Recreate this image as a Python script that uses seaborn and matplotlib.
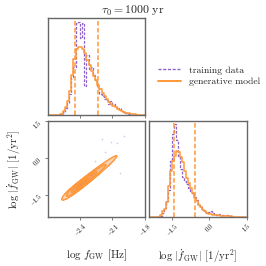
import numpy as np
import pandas as pd
import matplotlib
matplotlib.use("Agg")
import matplotlib.pyplot as plt
import seaborn as sns
from matplotlib.lines import Line2D
from matplotlib.colors import LinearSegmentedColormap

# marginal of log f_GW (top-left), heights
f_edges = np.linspace(-2.70, -1.80, 46)
f_train = [0, 0, 0, 0, 0, 0, 0.01, 0.04, 0.08, 0.13, 0.22, 0.40, 0.50, 0.95, 0.96,
           0.80, 0.95, 0.30, 0.62, 0.48, 0.50, 0.42, 0.36, 0.30, 0.22, 0.20, 0.17,
           0.16, 0.12, 0.15, 0.12, 0.09, 0.07, 0.08, 0.05, 0.04, 0.03, 0.02, 0.01,
           0, 0, 0, 0, 0, 0]
f_model = [0, 0, 0, 0, 0, 0.005, 0.02, 0.05, 0.09, 0.15, 0.25, 0.42, 0.58, 0.68,
           0.71, 0.71, 0.68, 0.64, 0.57, 0.52, 0.46, 0.41, 0.36, 0.31, 0.27, 0.23,
           0.20, 0.17, 0.14, 0.12, 0.10, 0.085, 0.07, 0.06, 0.05, 0.04, 0.03, 0.025,
           0.02, 0.015, 0.01, 0.008, 0.006, 0.004, 0.003]
f_quant = [-2.446, -2.23]

# marginal of log |fdot_GW| (bottom-right)
fd_edges = np.linspace(-2.44, 1.48, 50)
fd_train = [0, 0, 0, 0, 0, 0, 0.01, 0.04, 0.09, 0.17, 0.28, 0.58, 0.86, 0.97, 0.80,
            0.64, 0.50, 0.42, 0.38, 0.34, 0.30, 0.26, 0.24, 0.21, 0.18, 0.13, 0.10,
            0.07, 0.05, 0.04, 0.05, 0.06, 0.04, 0.03, 0.025, 0.03, 0.02, 0.025, 0.02,
            0.02, 0.02, 0.01, 0, 0, 0, 0, 0, 0, 0]
fd_model = [0, 0, 0, 0, 0, 0.005, 0.02, 0.06, 0.08, 0.16, 0.32, 0.48, 0.58, 0.64,
            0.69, 0.68, 0.63, 0.57, 0.48, 0.41, 0.35, 0.30, 0.25, 0.20, 0.17, 0.13,
            0.10, 0.07, 0.06, 0.045, 0.035, 0.03, 0.025, 0.02, 0.02, 0.017, 0.015,
            0.013, 0.011, 0.009, 0.007, 0.006, 0.005, 0.004, 0.003, 0.002, 0.002,
            0.001, 0.001]
fd_quant = [-1.43, -0.59]

# joint density of the generative model: profile along the ridge ...
ridge_x = [-2.55, -2.51, -2.47, -2.43, -2.39, -2.35, -2.31, -2.27, -2.23, -2.19,
           -2.15, -2.11, -2.07, -2.03, -1.99, -1.95, -1.91]
ridge_y = [-1.60, -1.47, -1.34, -1.21, -1.08, -0.94, -0.80, -0.66, -0.52, -0.38,
           -0.24, -0.10, 0.04, 0.18, 0.32, 0.46, 0.60]
ridge_w = [0.05, 0.15, 0.42, 0.68, 0.71, 0.64, 0.52, 0.41, 0.31, 0.23, 0.17, 0.12,
           0.085, 0.06, 0.04, 0.025, 0.012]
# ... and across it (offset in log fdot, relative weight)
cross_dy = [-0.15, -0.10, -0.05, 0.0, 0.05, 0.10, 0.15]
cross_w = [0.32, 0.61, 0.88, 1.0, 0.88, 0.61, 0.32]

# a few training samples visible as faint dots
train_x = [-1.99, -2.06, -2.20, -2.11, -2.17, -2.26, -2.03, -2.14, -2.30, -2.35,
           -2.40, -2.44, -2.38, -2.33, -2.28, -2.42, -2.46, -2.36, -2.31, -2.25]
train_y = [0.90, 0.60, 0.78, 0.65, 0.26, -0.14, -0.61, -0.30, -0.70, -0.90,
           -1.05, -1.20, -1.15, -0.80, -0.55, -1.30, -1.40, -1.00, -0.95, -0.40]

purple = "#8e63c9"
orange = "#ff9838"

sns.set_style("ticks")
plt.rcParams["font.family"] = ["cmr10", "DejaVu Serif"]
plt.rcParams["mathtext.fontset"] = "cm"
plt.rcParams["axes.formatter.use_mathtext"] = True
plt.rcParams["axes.unicode_minus"] = False
plt.rcParams["axes.edgecolor"] = "#666666"
plt.rcParams["axes.linewidth"] = 1.0
plt.rcParams["xtick.color"] = "#666666"
plt.rcParams["ytick.color"] = "#666666"
plt.rcParams["xtick.labelcolor"] = "black"
plt.rcParams["ytick.labelcolor"] = "black"

fig = plt.figure(figsize=(2.66, 2.66), dpi=100)
ax_f = fig.add_axes([0.182, 0.566, 0.363, 0.365])
ax_j = fig.add_axes([0.182, 0.184, 0.363, 0.361])
ax_d = fig.add_axes([0.562, 0.184, 0.365, 0.361])

f_xlim = (-2.69, -1.80)
fd_lim = (-2.40, 1.50)
f_ticks = [-2.4, -2.1, -1.8]
f_ticklabels = ["$-2.4$", "$-2.1$", "$-1.8$"]
fd_ticks = [-1.5, 0.0, 1.5]
fd_ticklabels = ["$-1.5$", "$0.0$", "$1.5$"]

dashes = (0, (2.2, 1.2))

# top-left marginal
f_df = pd.DataFrame({"c": (f_edges[:-1] + f_edges[1:]) / 2,
                     "train": f_train, "model": f_model})
sns.histplot(data=f_df, x="c", weights="train", bins=list(f_edges), element="step",
             fill=False, color=purple, linestyle=dashes, linewidth=0.9, ax=ax_f)
sns.histplot(data=f_df, x="c", weights="model", bins=list(f_edges), element="step",
             fill=False, color=orange, linewidth=1.1, ax=ax_f)
for q in f_quant:
    ax_f.axvline(q, color=orange, linestyle=(0, (3, 1.5)), linewidth=1.1)
ax_f.set_xlim(*f_xlim)
ax_f.set_ylim(0, 1.0)
ax_f.set_xticks(f_ticks)
ax_f.set_xticklabels([])
ax_f.set_yticks([])
ax_f.set_xlabel("")
ax_f.set_ylabel("")

# joint panel: table of ridge x cross-section
joint = pd.DataFrame(
    [(x, y + dy, w * cw)
     for x, y, w in zip(ridge_x, ridge_y, ridge_w)
     for dy, cw in zip(cross_dy, cross_w)],
    columns=["x", "y", "w"])
lev = [0.135, 0.325, 0.607, 0.882, 1.0]
fill_cmap = LinearSegmentedColormap.from_list("peach", ["#fcdcc2", "#ec8b4a"])
sns.kdeplot(data=joint, x="x", y="y", weights="w", fill=True, levels=lev,
            cmap=fill_cmap, gridsize=300, ax=ax_j)
sns.kdeplot(data=joint, x="x", y="y", weights="w", fill=False, levels=lev[:-1],
            cmap=LinearSegmentedColormap.from_list("ol", [orange, orange]),
            linewidths=1.0, gridsize=300, ax=ax_j)
ax_j.scatter(train_x, train_y, s=1.5, color=purple, alpha=0.35, linewidths=0)
ax_j.set_xlim(*f_xlim)
ax_j.set_ylim(*fd_lim)
ax_j.set_xticks(f_ticks)
ax_j.set_xticklabels(f_ticklabels, rotation=45, fontsize=4.5)
ax_j.set_yticks(fd_ticks)
ax_j.set_yticklabels(fd_ticklabels, rotation=45, fontsize=4.5)
ax_j.set_xlabel(r"$\log\, f_{\rm GW}$ [Hz]", fontsize=8, labelpad=7)
ax_j.set_ylabel(r"$\log\, |\dot{f}_{\rm GW}|$ [$1/{\rm yr}^2$]", fontsize=7.8, labelpad=3)

# bottom-right marginal
fd_df = pd.DataFrame({"c": (fd_edges[:-1] + fd_edges[1:]) / 2,
                      "train": fd_train, "model": fd_model})
sns.histplot(data=fd_df, x="c", weights="train", bins=list(fd_edges), element="step",
             fill=False, color=purple, linestyle=dashes, linewidth=0.9, ax=ax_d)
sns.histplot(data=fd_df, x="c", weights="model", bins=list(fd_edges), element="step",
             fill=False, color=orange, linewidth=1.1, ax=ax_d)
for q in fd_quant:
    ax_d.axvline(q, color=orange, linestyle=(0, (3, 1.5)), linewidth=1.1)
ax_d.set_xlim(*fd_lim)
ax_d.set_ylim(0, 1.0)
ax_d.set_xticks(fd_ticks)
ax_d.set_xticklabels(fd_ticklabels, rotation=45, fontsize=4.5)
ax_d.set_yticks([])
ax_d.set_ylabel("")
ax_d.set_xlabel(r"$\log\, |\dot{f}_{\rm GW}|$ [$1/{\rm yr}^2$]", fontsize=7.8, labelpad=7)

for ax in (ax_f, ax_j, ax_d):
    for s in ax.spines.values():
        s.set_visible(True)
    ax.tick_params(length=2, width=0.6, pad=1)

handles = [Line2D([], [], color=purple, linestyle=dashes, linewidth=1.0),
           Line2D([], [], color=orange, linewidth=1.4)]
fig.legend(handles, ["training data", "generative model"], loc="center left",
           bbox_to_anchor=(0.575, 0.714), frameon=False, fontsize=7,
           borderpad=0, handlelength=2.4, handletextpad=0.8, labelspacing=0.25)

fig.suptitle(r"$\tau_0 = 1000$ yr", x=0.5, y=0.985, fontsize=8.5)

fig.savefig("out.png", dpi=100)
